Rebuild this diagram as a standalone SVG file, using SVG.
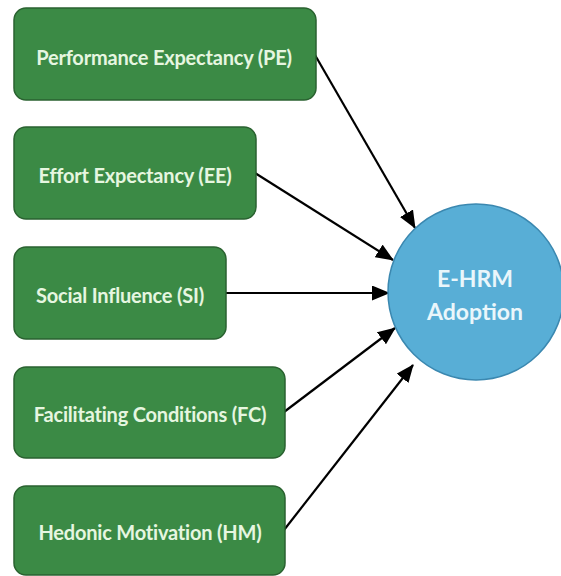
<svg xmlns="http://www.w3.org/2000/svg" width="561" height="576" viewBox="0 0 561 576">
<defs>
<style>
.box{fill:#3b8a45;stroke:#2a6230;stroke-width:1.5}
.lbl{font-family:Lato,"Liberation Sans",sans-serif;font-weight:bold;font-size:20px;fill:#e6f6e0;text-anchor:middle;dominant-baseline:central;letter-spacing:-0.2px}
.clbl{font-family:Lato,"Liberation Sans",sans-serif;font-weight:bold;font-size:23px;fill:#eaf6fb;text-anchor:middle}
.conn{stroke:#000;stroke-width:2.2;fill:none;marker-end:url(#arr)}
</style>
<marker id="arr" viewBox="0 0 18 15" refX="17" refY="7.5" markerWidth="18" markerHeight="15" markerUnits="userSpaceOnUse" orient="auto">
<path d="M0,0 L18,7.5 L0,15 z" fill="#000"/>
</marker>
</defs>
<rect width="561" height="576" fill="#fff"/>
<g id="connectors">
<line class="conn" x1="315" y1="55" x2="415" y2="228"/>
<line class="conn" x1="255" y1="173" x2="393" y2="260"/>
<line class="conn" x1="226" y1="293" x2="389" y2="293"/>
<line class="conn" x1="284" y1="412" x2="395" y2="328"/>
<line class="conn" x1="284" y1="530" x2="413" y2="365"/>
</g>
<g id="pe"><rect class="box" x="14" y="8" width="302" height="92" rx="12"/><text class="lbl" x="164" y="57">Performance Expectancy (PE)</text></g>
<g id="ee"><rect class="box" x="14" y="127" width="242" height="92" rx="12"/><text class="lbl" x="135" y="175">Effort Expectancy (EE)</text></g>
<g id="si"><rect class="box" x="14" y="247" width="212" height="92" rx="12"/><text class="lbl" x="120" y="295">Social Influence (SI)</text></g>
<g id="fc"><rect class="box" x="14" y="367" width="271" height="91" rx="12"/><text class="lbl" x="150" y="414">Facilitating Conditions (FC)</text></g>
<g id="hm"><rect class="box" x="14" y="486" width="271" height="89" rx="12"/><text class="lbl" x="150" y="532">Hedonic Motivation (HM)</text></g>
<g id="ehrm"><circle cx="476" cy="292" r="88" fill="#58aed6" stroke="#3b88b0" stroke-width="1.5"/><text class="clbl" x="475" y="287">E-HRM</text><text class="clbl" x="475" y="320">Adoption</text></g>
</svg>
